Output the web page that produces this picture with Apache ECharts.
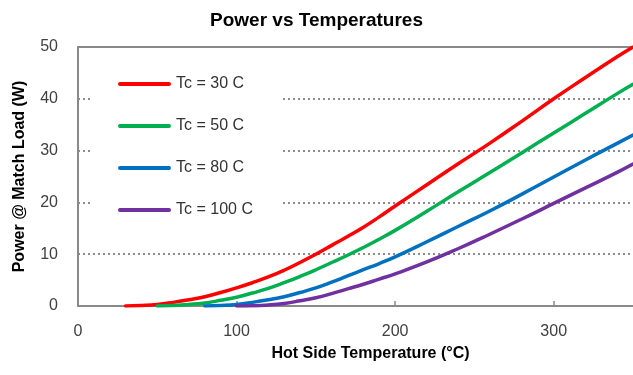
<!DOCTYPE html>
<html>
<head>
<meta charset="utf-8">
<title>Power vs Temperatures</title>
<script src="https://cdn.jsdelivr.net/npm/echarts@6/dist/echarts.min.js"></script>
<style>
  html, body { margin: 0; padding: 0; background: #fff; }
  #chart { width: 633px; height: 375px; }
</style>
</head>
<body>
<div id="chart"></div>
<script>
// hot side temperature (°C) sample points for each curve
const temp30 = [30, 40, 50, 60, 70, 80, 90, 100, 110, 120, 130, 140, 150, 160, 170, 180, 190, 200, 220, 240, 260, 280, 300, 320, 340, 350]
const power30 = [0, 0.1, 0.3, 0.7, 1.2, 1.8, 2.6, 3.5, 4.5, 5.6, 6.9, 8.4, 10.0, 11.7, 13.4, 15.2, 17.2, 19.3, 23.4, 27.5, 31.5, 35.7, 40.0, 44.1, 48.1, 50.0]

const temp50 = [50, 60, 70, 80, 90, 100, 110, 120, 130, 140, 150, 160, 170, 180, 190, 200, 220, 240, 260, 280, 300, 320, 340, 350]
const power50 = [0, 0.1, 0.3, 0.6, 1.1, 1.7, 2.5, 3.4, 4.5, 5.7, 7.0, 8.4, 9.8, 11.3, 12.9, 14.6, 18.3, 22.1, 25.8, 29.6, 33.4, 37.2, 41.0, 42.8]

const temp80 = [80, 90, 100, 110, 120, 130, 140, 150, 160, 170, 180, 190, 200, 220, 240, 260, 280, 300, 320, 340, 350]
const power80 = [0, 0.1, 0.3, 0.7, 1.2, 1.8, 2.6, 3.5, 4.6, 5.8, 7.0, 8.2, 9.5, 12.4, 15.4, 18.4, 21.6, 24.9, 28.2, 31.4, 33.0]

const temp100 = [100, 110, 120, 130, 140, 150, 160, 170, 180, 190, 200, 220, 240, 260, 280, 300, 320, 340, 350]
const power100 = [0, 0.05, 0.2, 0.5, 1.0, 1.6, 2.4, 3.3, 4.2, 5.2, 6.2, 8.5, 11.1, 13.9, 16.8, 19.8, 22.8, 25.8, 27.4]

const seriesNames = ['Tc = 30 C', 'Tc = 50 C', 'Tc = 80 C', 'Tc = 100 C']
const seriesColors = ['#FF0000', '#00B050', '#0070C0', '#7030A0']
const yTicks = [0, 10, 20, 30, 40, 50]
const xTicks = [0, 100, 200, 300]

const pairs = (xs, ys) => xs.map((x, i) => [x, ys[i]])
const seriesData = [
  pairs(temp30, power30),
  pairs(temp50, power50),
  pairs(temp80, power80),
  pairs(temp100, power100)
]

const font = 'Liberation Sans, Arial, sans-serif'
const axisGray = '#898989'

const chart = echarts.init(document.getElementById('chart'))

const option = {
  animation: false,
  title: {
    text: 'Power vs Temperatures',
    left: 'center',
    top: 6,
    textStyle: { fontFamily: font, fontSize: 19, fontWeight: 'bold', color: '#000' }
  },
  legend: {
    data: seriesNames.map((name, i) => ({
      name: name,
      icon: 'path://M2,0 L51,0 A2,2 0 0 1 51,4 L2,4 A2,2 0 0 1 2,0 Z',
      itemStyle: { color: seriesColors[i] }
    })),
    orient: 'vertical',
    left: 90,
    top: 60,
    padding: [15, 28, 15, 28],
    backgroundColor: '#fff',
    itemWidth: 53,
    itemHeight: 4,
    itemGap: 24,
    textStyle: { fontFamily: font, fontSize: 16, color: '#333', lineHeight: 18 }
  },
  grid: {
    left: 78,
    right: 0,
    top: 47,
    bottom: 69
  },
  xAxis: [
    {
      type: 'value',
      min: 0,
      max: 350,
      interval: 100,
      name: 'Hot Side Temperature (°C)',
      nameLocation: 'middle',
      nameGap: 40,
      nameTextStyle: { fontFamily: font, fontSize: 16, fontWeight: 'bold', color: '#000', padding: [0, 0, 0, 30] },
      axisLine: { lineStyle: { color: axisGray, width: 2 } },
      axisTick: { show: true, inside: true, length: 5, lineStyle: { color: axisGray, width: 1.5 } },
      axisLabel: {
        margin: 18,
        showMaxLabel: false,
        fontFamily: font,
        fontSize: 16,
        color: '#404040',
        formatter: v => (xTicks.includes(v) ? String(v) : '')
      },
      splitLine: { show: false }
    },
    {
      type: 'value',
      position: 'top',
      min: 0,
      max: 350,
      axisLine: { show: true, lineStyle: { color: axisGray, width: 2 } },
      axisTick: { show: false },
      axisLabel: { show: false },
      splitLine: { show: false }
    }
  ],
  yAxis: {
    type: 'value',
    min: 0,
    max: 50,
    interval: 10,
    name: 'Power @ Match Load (W)',
    nameLocation: 'middle',
    nameGap: 50,
    nameTextStyle: { fontFamily: font, fontSize: 16, fontWeight: 'bold', color: '#000' },
    axisLine: { show: true, lineStyle: { color: axisGray, width: 2 } },
    axisTick: { show: false },
    axisLabel: {
      margin: 20,
      fontFamily: font,
      fontSize: 16,
      color: '#404040',
      formatter: v => (yTicks.includes(v) ? String(v) : '')
    },
    splitLine: { show: true, lineStyle: { color: '#8c8c8c', width: 2, type: [2, 3] } }
  },
  series: seriesNames.map((name, i) => ({
    name: name,
    type: 'line',
    xAxisIndex: 0,
    smooth: 0.5,
    symbol: 'none',
    lineStyle: { width: 3.5, color: seriesColors[i], cap: 'round' },
    itemStyle: { color: seriesColors[i] },
    data: seriesData[i]
  }))
}

chart.setOption(option)
</script>
</body>
</html>
